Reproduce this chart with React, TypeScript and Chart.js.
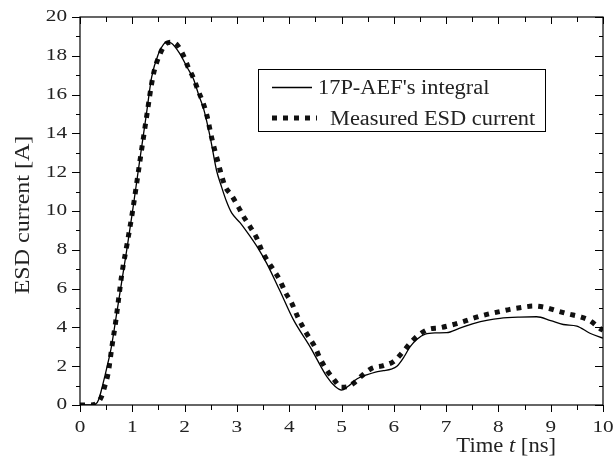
import React, { useEffect, useRef } from 'react';
import { Chart, registerables } from 'chart.js';

Chart.register(...registerables);

const integralTime = [0, 0.2, 0.3, 0.36, 0.44, 0.52, 0.6, 0.7, 0.8, 0.9, 1.0, 1.12, 1.27, 1.37, 1.5, 1.6, 1.66, 1.75, 1.91, 2.05, 2.17, 2.28, 2.36, 2.49, 2.61, 2.7, 2.8, 2.9, 3.06, 3.25, 3.4, 3.57, 3.82, 4.08, 4.4, 4.72, 4.88, 5.0, 5.12, 5.3, 5.48, 5.65, 5.8, 5.95, 6.06, 6.2, 6.31, 6.45, 6.6, 6.8, 7.01, 7.25, 7.52, 7.8, 8.03, 8.4, 8.73, 9.0, 9.24, 9.5, 9.75, 10.0];
const integralCurrent = [0, 0, 0.05, 0.3, 1.1, 2.0, 3.0, 4.7, 6.4, 8.1, 9.9, 12.2, 15.0, 16.9, 18.1, 18.6, 18.7, 18.65, 18.1, 17.4, 16.8, 15.9, 15.3, 13.8, 12.1, 11.3, 10.5, 9.9, 9.4, 8.7, 8.1, 7.3, 5.9, 4.4, 3.0, 1.46, 0.95, 0.77, 0.95, 1.35, 1.55, 1.7, 1.77, 1.85, 2.0, 2.5, 3.0, 3.4, 3.65, 3.72, 3.73, 3.95, 4.2, 4.38, 4.47, 4.53, 4.55, 4.35, 4.15, 4.07, 3.7, 3.45];

const measuredTime = [0, 0.2, 0.3, 0.41, 0.48, 0.54, 0.61, 0.68, 0.74, 0.8, 0.9, 1.0, 1.12, 1.27, 1.4, 1.53, 1.66, 1.76, 1.86, 1.98, 2.07, 2.17, 2.26, 2.35, 2.42, 2.52, 2.64, 2.77, 2.9, 3.03, 3.12, 3.25, 3.38, 3.47, 3.57, 3.7, 3.82, 3.92, 4.05, 4.17, 4.33, 4.49, 4.59, 4.72, 4.84, 5.0, 5.12, 5.23, 5.39, 5.58, 5.8, 5.99, 6.15, 6.31, 6.47, 6.66, 6.88, 7.1, 7.33, 7.55, 7.78, 8.0, 8.22, 8.45, 8.67, 8.89, 9.11, 9.34, 9.56, 9.75, 9.94, 10.0];
const measuredCurrent = [0, 0, 0.05, 0.43, 1.03, 1.67, 3.0, 4.25, 5.5, 6.75, 8.3, 9.9, 12.1, 14.8, 17.0, 18.1, 18.65, 18.7, 18.55, 18.0, 17.4, 16.85, 16.2, 15.6, 15.0, 13.75, 12.5, 11.3, 10.8, 10.2, 9.75, 9.2, 8.6, 8.0, 7.5, 6.96, 6.44, 5.84, 5.24, 4.5, 3.7, 3.0, 2.4, 1.8, 1.37, 0.92, 0.95, 1.12, 1.51, 1.89, 2.03, 2.23, 2.66, 3.18, 3.6, 3.9, 3.98, 4.12, 4.3, 4.5, 4.67, 4.8, 4.93, 5.03, 5.1, 5.03, 4.86, 4.69, 4.55, 4.35, 3.95, 3.85];

const xTickLabels = ['0', '1', '2', '3', '4', '5', '6', '7', '8', '9', '10'];
const yTickLabels = ['0', '2', '4', '6', '8', '10', '12', '14', '16', '18', '20'];
const seriesNames = ["17P-AEF's integral", 'Measured ESD current'];
const yTitle = 'ESD current [A]';
const xTitleParts = ['Time ', 't', ' [ns]'];

const FONT = '"Liberation Serif", "DejaVu Serif", serif';
const TEXT = '#222';

// draws text horizontally stretched by sx, anchored by align at (x, y)
function stretchText(ctx: CanvasRenderingContext2D, text: string, x: number, y: number, font: string, sx: number, align: 'left' | 'center' | 'right') {
  ctx.save();
  ctx.font = font;
  const w = ctx.measureText(text).width * sx;
  let left = x;
  if (align === 'center') left = x - w / 2;
  if (align === 'right') left = x - w;
  ctx.translate(left, y);
  ctx.scale(sx, 1);
  ctx.textAlign = 'left';
  ctx.fillText(text, 0, 0);
  ctx.restore();
  return w;
}

const framePlugin = {
  id: 'frameTicks',
  afterDatasetsDraw(chart: any) {
    const { ctx, chartArea: a, scales } = chart;
    const x = scales.x;
    const y = scales.y;
    ctx.save();
    ctx.strokeStyle = '#000';
    ctx.lineWidth = 1.2;
    ctx.strokeRect(a.left, a.top, a.right - a.left, a.bottom - a.top);
    ctx.lineWidth = 1;
    ctx.beginPath();
    x.ticks.forEach((t: any) => {
      const px = Math.round(x.getPixelForValue(t.value)) + 0.5;
      const major = Number.isInteger(t.value);
      const len = major ? 7 : 5;
      ctx.moveTo(px, a.bottom);
      ctx.lineTo(px, a.bottom + len);
      ctx.moveTo(px, a.top);
      ctx.lineTo(px, a.top + len);
    });
    y.ticks.forEach((t: any) => {
      const py = Math.round(y.getPixelForValue(t.value)) + 0.5;
      const major = t.value % 2 === 0;
      const len = major ? 8 : 4;
      ctx.moveTo(a.left - len, py);
      ctx.lineTo(a.left, py);
      ctx.moveTo(a.right - len, py);
      ctx.lineTo(a.right, py);
    });
    ctx.stroke();
    ctx.restore();
  },
  afterDraw(chart: any) {
    const { ctx, chartArea: a, scales } = chart;
    const x = scales.x;
    const y = scales.y;
    ctx.save();
    ctx.fillStyle = TEXT;
    // tick labels
    const tickFont = `17px ${FONT}`;
    ctx.textBaseline = 'middle';
    y.ticks.forEach((t: any) => {
      if (t.value % 2 !== 0) return;
      stretchText(ctx, yTickLabels[t.value / 2], a.left - 13, y.getPixelForValue(t.value), tickFont, 1.25, 'right');
    });
    ctx.textBaseline = 'alphabetic';
    x.ticks.forEach((t: any) => {
      if (!Number.isInteger(t.value)) return;
      stretchText(ctx, xTickLabels[t.value], x.getPixelForValue(t.value), a.bottom + 27, tickFont, 1.25, 'center');
    });

    // y title (rotated)
    ctx.save();
    ctx.translate(24, 215);
    ctx.rotate(-Math.PI / 2);
    ctx.textBaseline = 'middle';
    stretchText(ctx, yTitle, 0, 0, `20px ${FONT}`, 1.2, 'center');
    ctx.restore();

    // x title: Time t [ns]
    ctx.textBaseline = 'alphabetic';
    const sx = 1.13;
    const fonts = [`20px ${FONT}`, `italic 20px ${FONT}`, `20px ${FONT}`];
    const widths = xTitleParts.map((p, i) => {
      ctx.font = fonts[i];
      return ctx.measureText(p).width * sx;
    });
    let cx = 556 - widths.reduce((s, w) => s + w, 0);
    xTitleParts.forEach((p, i) => {
      stretchText(ctx, p, cx, 452, fonts[i], sx, 'left');
      cx += widths[i];
    });
    ctx.restore();

    // legend
    ctx.save();
    const bx = 258, byTop = 69, bw = 287, bh = 62;
    ctx.fillStyle = '#fff';
    ctx.fillRect(bx, byTop, bw, bh);
    ctx.strokeStyle = '#000';
    ctx.lineWidth = 1;
    ctx.strokeRect(bx + 0.5, byTop + 0.5, bw, bh);
    const ds = chart.data.datasets;
    ctx.beginPath();
    ctx.lineWidth = ds[0].borderWidth;
    ctx.strokeStyle = ds[0].borderColor;
    ctx.moveTo(272, 87.5);
    ctx.lineTo(312, 87.5);
    ctx.stroke();
    ctx.beginPath();
    ctx.lineWidth = ds[1].borderWidth;
    ctx.strokeStyle = ds[1].borderColor;
    ctx.setLineDash(ds[1].borderDash);
    ctx.moveTo(272, 118);
    ctx.lineTo(317, 118);
    ctx.stroke();
    ctx.setLineDash([]);
    ctx.fillStyle = TEXT;
    ctx.textBaseline = 'alphabetic';
    stretchText(ctx, seriesNames[0], 318, 94, `20px ${FONT}`, 1.12, 'left');
    stretchText(ctx, seriesNames[1], 330, 125, `20px ${FONT}`, 1.12, 'left');
    ctx.restore();
  },
};

export default function App() {
  const ref = useRef<HTMLCanvasElement | null>(null);
  useEffect(() => {
    if (!ref.current) return;
    const chart = new Chart(ref.current, {
      type: 'line',
      data: {
        datasets: [
          {
            label: seriesNames[0],
            data: integralTime.map((t, i) => ({ x: t, y: integralCurrent[i] })),
            borderColor: '#000',
            borderWidth: 1.3,
            pointRadius: 0,
            fill: false,
            tension: 0.4,
            cubicInterpolationMode: 'monotone',
          },
          {
            label: seriesNames[1],
            data: measuredTime.map((t, i) => ({ x: t, y: measuredCurrent[i] })),
            borderColor: '#111',
            borderWidth: 5,
            borderDash: [5, 6],
            borderCapStyle: 'butt',
            pointRadius: 0,
            fill: false,
            tension: 0.4,
            cubicInterpolationMode: 'monotone',
          },
        ],
      },
      options: {
        responsive: false,
        animation: false,
        layout: { padding: { top: 17, right: 13, left: 0, bottom: 0 } },
        plugins: { legend: { display: false }, tooltip: { enabled: false } },
        scales: {
          x: {
            type: 'linear',
            min: 0,
            max: 10,
            grid: { display: false, drawTicks: false },
            border: { display: false },
            ticks: { display: false, stepSize: 0.5, autoSkip: false, maxRotation: 0 },
            afterFit: (s: any) => {
              s.height = 53;
            },
          },
          y: {
            type: 'linear',
            min: 0,
            max: 20,
            grid: { display: false, drawTicks: false },
            border: { display: false },
            ticks: { display: false, stepSize: 1, autoSkip: false },
            afterFit: (s: any) => {
              s.width = 80;
            },
          },
        },
      },
      plugins: [framePlugin],
    } as any);
    return () => chart.destroy();
  }, []);
  return (
    <div style={{ position: 'fixed', left: 0, top: 0, width: 616, height: 458, background: '#fff' }}>
      <canvas ref={ref} width={616} height={458} style={{ width: 616, height: 458 }} />
    </div>
  );
}
